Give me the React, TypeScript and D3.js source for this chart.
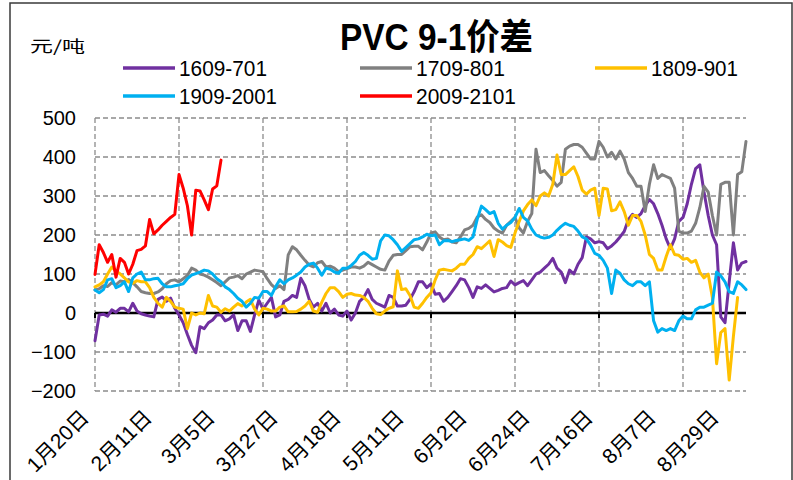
import React from 'react'
import * as d3 from 'd3'

// x axis: one point per trading day, label every 15 points, gridline every 20
const dateLabels = ['1月20日', '2月11日', '3月5日', '3月27日', '4月18日', '5月11日', '6月2日', '6月24日', '7月16日', '8月7日', '8月29日']
const yTicks = [500, 400, 300, 200, 100, 0, -100, -200]

const s1609 = [-71, -5, -3, -8, 8, 2, 12, 12, 3, 25, 5, -2, -5, -8, -10, 35, 41, 30, 38, 12, -5, -25, -55, -83, -102, -35, -40, -25, -18, -5, -5, -20, -15, -5, -45, -20, -20, -47, -5, 33, 10, 25, 40, -10, -5, 30, 35, 45, 40, 89, 70, 35, 15, 25, 5, 25, 0, 10, -5, -8, 5, -18, 0, 30, 40, 60, 35, 25, 20, 15, 45, 40, 18, 18, 20, 35, 55, 80, 80, 65, 75, 48, 50, 30, 40, 55, 70, 88, 85, 65, 40, 67, 63, 72, 63, 54, 58, 63, 65, 82, 72, 78, 83, 70, 85, 100, 105, 115, 125, 140, 115, 105, 78, 110, 100, 125, 142, 195, 190, 180, 183, 180, 165, 172, 182, 195, 209, 240, 253, 245, 255, 275, 291, 280, 255, 225, 190, 165, 190, 235, 245, 280, 330, 370, 380, 310, 250, 200, 175, -10, -25, 80, 180, 110, 128, 132]
const s1709 = [59, 62, 70, 68, 78, 72, 82, 80, 86, 78, 67, 55, 52, 50, 50, 54, 62, 75, 83, 85, 80, 88, 96, 115, 110, 100, 97, 92, 85, 78, 70, 80, 90, 92, 96, 88, 100, 105, 110, 108, 106, 88, 73, 63, 70, 60, 149, 170, 162, 148, 135, 123, 118, 129, 132, 118, 120, 115, 106, 110, 114, 118, 118, 115, 120, 130, 124, 118, 112, 110, 133, 148, 150, 150, 160, 170, 171, 171, 162, 182, 205, 208, 195, 188, 190, 182, 180, 195, 213, 217, 225, 246, 252, 240, 232, 218, 210, 205, 225, 235, 245, 218, 205, 235, 255, 420, 360, 365, 352, 340, 325, 335, 420, 428, 432, 432, 425, 410, 395, 395, 440, 425, 400, 412, 395, 415, 395, 360, 345, 325, 325, 260, 330, 380, 345, 355, 350, 345, 320, 210, 205, 205, 210, 230, 270, 325, 310, 250, 200, 330, 335, 335, 200, 355, 362, 440]
const s1809 = [67, 72, 80, 100, 118, 108, 100, 90, 80, 76, 83, 80, 80, 65, 40, 25, 15, 40, 30, 15, 12, 10, -40, 0, -5, 0, -2, 45, 18, 15, 2, 11, 5, 15, 24, 18, 28, 35, 10, -5, 12, 10, 5, 5, 15, 18, 3, 3, 4, 10, 18, 30, 5, 2, 28, 50, 65, 65, 55, 40, 48, 50, 46, 45, 40, 30, 12, -2, -4, 5, 12, 16, 108, 60, 62, 45, 15, 12, 25, 40, 52, 85, 110, 112, 110, 108, 115, 125, 125, 140, 150, 170, 165, 175, 185, 145, 188, 182, 173, 168, 205, 235, 262, 278, 290, 275, 300, 308, 300, 330, 405, 355, 355, 365, 375, 350, 315, 305, 315, 320, 250, 320, 318, 262, 265, 285, 260, 225, 250, 250, 235, 200, 150, 140, 110, 110, 145, 175, 150, 148, 138, 140, 130, 135, 105, 90, 100, 40, -130, -50, -40, -172, -60, 40]
const s1909 = [59, 52, 60, 85, 88, 65, 70, 80, 55, 90, 100, 105, 85, 85, 88, 89, 75, 67, 67, 70, 72, 75, 88, 97, 101, 105, 110, 108, 100, 88, 80, 67, 60, 50, 38, 30, 15, 25, 40, 38, 55, 55, 45, 67, 85, 75, 85, 90, 97, 105, 118, 125, 128, 115, 97, 115, 112, 105, 102, 115, 115, 122, 132, 148, 155, 148, 138, 140, 185, 200, 198, 188, 175, 158, 168, 178, 188, 190, 195, 202, 198, 200, 175, 185, 186, 183, 186, 188, 190, 186, 195, 240, 274, 265, 255, 260, 230, 215, 225, 232, 245, 268, 245, 236, 215, 200, 195, 192, 194, 200, 212, 222, 230, 225, 222, 210, 195, 190, 174, 153, 148, 135, 115, 50, 110, 102, 85, 75, 70, 80, 80, 70, 80, -20, -49, -40, -45, -40, -45, -20, -8, -15, -15, 8, 15, 15, 20, 25, 105, 95, 80, 55, 50, 80, 72, 60]
const s2009 = [99, 175, 155, 130, 150, 92, 140, 130, 100, 125, 160, 163, 172, 240, 203, 213, 225, 235, 245, 253, 355, 320, 275, 200, 315, 313, 290, 265, 318, 326, 392]

const seriesNames = ['1609-701', '1709-801', '1809-901', '1909-2001', '2009-2101']
const seriesColors = ['#7030A0', '#808080', '#FFC000', '#00B0F0', '#FF0000']
const seriesData = [s1609, s1709, s1809, s1909, s2009]

const W = 793
const H = 480

export default function App() {
  const x = d3.scaleLinear().domain([0, 155]).range([95, 746])
  const y = d3.scaleLinear().domain([-200, 500]).range([391, 118])

  const line = d3.line<number>()
    .x((d, i) => x(i))
    .y(d => y(d))

  const gridX = d3.range(0, 141, 20)
  const labelX = d3.range(0, 151, 15)

  const font = "'Liberation Sans', Arial, 'Noto Sans CJK SC', sans-serif"

  // legend layout (two rows)
  const legendPos = [
    { lx: 123, ly: 68 }, { lx: 360, ly: 68 }, { lx: 595, ly: 68 },
    { lx: 123, ly: 96 }, { lx: 360, ly: 96 },
  ]
  const legendTextLen = [88, 89, 87, 98, 100]

  return (
    <div style={{ position: 'fixed', left: 0, top: 0 }}>
      <svg width={W} height={H} style={{ display: 'block', background: '#fff' }}>
        <rect x={10} y={3} width={782} height={490} fill="#fff" stroke="#3a3a3a" strokeWidth={1.5} />

        {/* title */}
        <text x={340} y={50} fontFamily="'Liberation Sans', 'Noto Sans CJK SC', sans-serif" fontWeight="bold"
          fontSize={36} textLength={193} lengthAdjust="spacingAndGlyphs" fill="#000">PVC 9-1价差</text>
        <text x={30} y={52} fontFamily="'Noto Sans CJK SC', sans-serif" fontSize={16}
          textLength={55} lengthAdjust="spacingAndGlyphs" fill="#000">元/吨</text>

        {/* legend */}
        {seriesNames.map((n, k) => (
          <g key={n}>
            <line x1={legendPos[k].lx} x2={legendPos[k].lx + 52} y1={legendPos[k].ly} y2={legendPos[k].ly}
              stroke={seriesColors[k]} strokeWidth={3.5} />
            <text x={legendPos[k].lx + 56} y={legendPos[k].ly + 8} fontFamily={font} fontSize={22}
              textLength={legendTextLen[k]} lengthAdjust="spacingAndGlyphs" fill="#000">{n}</text>
          </g>
        ))}

        {/* gridlines */}
        {yTicks.filter(t => t !== 0).map(t => (
          <line key={'h' + t} x1={95} x2={746} y1={y(t)} y2={y(t)} stroke="#8c8c8c" strokeWidth={1.3} strokeDasharray="5,3" />
        ))}
        {gridX.map(i => (
          <line key={'v' + i} x1={x(i)} x2={x(i)} y1={y(500)} y2={y(-200)} stroke="#8c8c8c" strokeWidth={1.3} strokeDasharray="5,3" />
        ))}

        {/* y tick labels */}
        {yTicks.map(t => (
          <text key={'yt' + t} x={76} y={y(t) + 7} textAnchor="end" fontFamily={font} fontSize={20} fill="#000">
            {t < 0 ? '\u2212' + Math.abs(t) : t}
          </text>
        ))}

        {/* zero axis */}
        <line x1={95} x2={746} y1={y(0)} y2={y(0)} stroke="#000" strokeWidth={2.5} />
        {gridX.map(i => (
          <line key={'tk' + i} x1={x(i)} x2={x(i)} y1={y(0)} y2={y(0) + 5} stroke="#000" strokeWidth={2} />
        ))}

        {/* series */}
        {seriesData.map((d, k) => (
          <path key={seriesNames[k]} d={line(d) || ''} fill="none" stroke={seriesColors[k]}
            strokeWidth={3} strokeLinejoin="round" strokeLinecap="round" />
        ))}

        {/* x labels */}
        {labelX.map((i, k) => (
          <text key={'xl' + i} transform={`translate(${x(i) - 5},${419}) rotate(-45)`} textAnchor="end"
            fontFamily={font} fontSize={21} fill="#000">{dateLabels[k]}</text>
        ))}
      </svg>
    </div>
  )
}
